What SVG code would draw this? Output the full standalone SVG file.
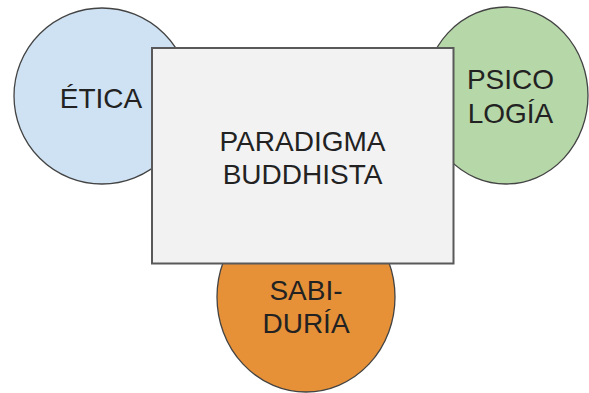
<svg xmlns="http://www.w3.org/2000/svg" width="589" height="393" viewBox="0 0 589 393">
<style>
.shape{stroke:#434343;stroke-width:1.3}
.lbl{font-family:"Liberation Sans",Arial,sans-serif;font-size:28px;fill:#222;text-anchor:middle}
</style>
<rect width="589" height="393" fill="#ffffff"/>
<g id="etica">
<circle class="shape" cx="102" cy="96" r="88" fill="#cfe2f3"/>
<text class="lbl" x="101" y="107.5">ÉTICA</text>
</g>
<g id="psicologia">
<ellipse class="shape" cx="506" cy="95.5" rx="82" ry="88.5" fill="#b6d7a8"/>
<text class="lbl" x="510.5" y="89">PSICO</text>
<text class="lbl" x="510.5" y="122.5">LOGÍA</text>
</g>
<g id="sabiduria">
<ellipse class="shape" cx="306" cy="297" rx="89" ry="95" fill="#e69138"/>
<text class="lbl" x="306" y="300">SABI-</text>
<text class="lbl" x="306" y="333">DURÍA</text>
</g>
<g id="paradigma">
<rect x="152" y="48" width="301.5" height="215.5" fill="#f2f2f2" stroke="#595959" stroke-width="2"/>
<text class="lbl" x="302.5" y="150.5">PARADIGMA</text>
<text class="lbl" x="302.5" y="184">BUDDHISTA</text>
</g>
<g id="connectors"/>
</svg>
